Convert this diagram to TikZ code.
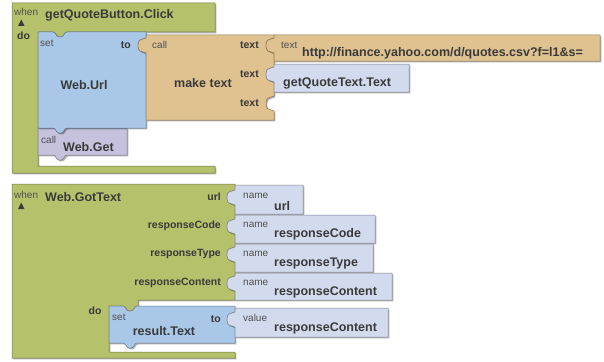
\documentclass[tikz,border=0pt]{standalone}
\usepackage{fontspec}
\setmainfont{Liberation Sans}
\definecolor{evt}{HTML}{B5C26B}
\definecolor{setc}{HTML}{A9C7E6}
\definecolor{txtc}{HTML}{DFC28F}
\definecolor{callc}{HTML}{C6C2DE}
\definecolor{valc}{HTML}{D2DBEE}
\definecolor{ink}{HTML}{3A3A3A}
\definecolor{inksoft}{HTML}{505050}
\tikzset{
  x=1pt, y=-1pt,
  % block body with a soft drop shadow on the lower right
  blk/.style={fill=#1, draw=#1!60!black, line width=0.5pt, line join=round,
    preaction={fill=black, fill opacity=0.3, transform canvas={shift={(1.4,1.4)}}}},
  % notch in the top edge of a statement block (path runs to the right)
  notchR/.style 2 args={insert path={-- (#1,#2) .. controls ({#1+3},#2) and ({#1+3},{#2+5}) .. ({#1+6},{#2+5})
      -- ({#1+8},{#2+5}) .. controls ({#1+11},{#2+5}) and ({#1+11},#2) .. ({#1+14},#2)}},
  % tab hanging below an edge (path runs to the left)
  tabL/.style 2 args={insert path={-- ({#1+14},#2) .. controls ({#1+11},#2) and ({#1+11},{#2+5}) .. ({#1+8},{#2+5})
      -- ({#1+6},{#2+5}) .. controls ({#1+3},{#2+5}) and ({#1+3},#2) .. (#1,#2)}},
  % value socket cut into a right edge (path runs downwards)
  sockD/.style 2 args={insert path={-- (#1,#2) .. controls ({#1-1},{#2+1}) and ({#1-2},{#2+1}) .. ({#1-3},{#2+1})
      .. controls ({#1-6},{#2+1}) and ({#1-8},{#2+3}) .. ({#1-8},{#2+6}) -- ({#1-8},{#2+9})
      .. controls ({#1-8},{#2+12}) and ({#1-6},{#2+14}) .. ({#1-3},{#2+14})
      .. controls ({#1-2},{#2+14}) and ({#1-1},{#2+14}) .. (#1,{#2+15})}},
  % value plug on a left edge (path runs upwards)
  plugU/.style 2 args={insert path={-- (#1,{#2+15}) .. controls ({#1-1},{#2+14}) and ({#1-2},{#2+14}) .. ({#1-3},{#2+14})
      .. controls ({#1-6},{#2+14}) and ({#1-8},{#2+12}) .. ({#1-8},{#2+9}) -- ({#1-8},{#2+6})
      .. controls ({#1-8},{#2+3}) and ({#1-6},{#2+1}) .. ({#1-3},{#2+1})
      .. controls ({#1-2},{#2+1}) and ({#1-1},{#2+1}) .. (#1,#2)}},
  lblsm/.style={inner sep=0pt, text=inksoft, font=\fontsize{10}{10}\selectfont},
  lblmid/.style={inner sep=0pt, text=ink, font=\bfseries\fontsize{10.5}{10.5}\selectfont},
  lblbig/.style={inner sep=0pt, text=ink, font=\bfseries\fontsize{12.5}{12.5}\selectfont},
}
\begin{document}
\begin{tikzpicture}
\useasboundingbox (0,0) rectangle (604,361);

% ---------- when getQuoteButton.Click ----------
\path[blk=evt] (12,3) -- (215,3) -- (215,32) [tabL={53}{32}] -- (38,32) -- (38,166)
  -- (215,166) -- (215,173) -- (12,173) -- cycle;
\path[blk=callc] (38,128) [notchR={53}{128}] -- (127,128) -- (127,155) [tabL={53}{155}] -- (38,155) -- cycle;
\path[blk=setc] (38,32) [notchR={53}{32}] -- (146,32) [sockD={146}{38}] -- (146,128)
  [tabL={53}{128}] -- (38,128) -- cycle;
\path[blk=txtc] (146,35) -- (274,35) [sockD={274}{38}] [sockD={274}{67}] [sockD={274}{96}]
  -- (274,120) -- (146,120) [plugU={146}{38}] -- cycle;
\path[blk=txtc] (274,35) -- (600,35) -- (600,61) -- (274,61) [plugU={274}{38}] -- cycle;
\path[blk=valc] (274,64) -- (409,64) -- (409,92) -- (274,92) [plugU={274}{67}] -- cycle;

\node[lblsm, anchor=west] (when1) at (14,12) {when};
\fill[ink] (18,26) -- (24.5,26) -- (21.25,19.5) -- cycle;
\node[lblbig, anchor=west] (click) at (45,15) {getQuoteButton.Click};
\node[lblmid, anchor=west] (do1) at (17,36) {do};
\node[lblsm, anchor=west] (set1) at (40,43) {set};
\node[lblmid, anchor=east] (to1) at (131,45) {to};
\node[lblbig] (weburl) at (84,85) {Web.Url};
\node[lblsm, anchor=west] (call1) at (152,45) {call};
\node[lblbig] (maketext) at (203,83) {make text};
\node[lblmid, anchor=east] (t1) at (259,45) {text};
\node[lblmid, anchor=east] (t2) at (259,74) {text};
\node[lblmid, anchor=east] (t3) at (259,103) {text};
\node[lblsm, anchor=west] (strlbl) at (281,45) {text};
\node[lblbig, anchor=west] (urlstr) at (302,53) {http://finance.yahoo.com/d/quotes.csv?f=l1\&s=};
\node[lblbig, anchor=west] (qtext) at (283,83) {getQuoteText.Text};
\node[lblsm, anchor=west] (call2) at (41,140) {call};
\node[lblbig, anchor=west] (webget) at (63,147) {Web.Get};

% ---------- when Web.GotText ----------
\path[blk=evt] (12,184) -- (235,184) [sockD={235}{190}] [sockD={235}{219}] [sockD={235}{247}]
  [sockD={235}{276}] -- (235,300) -- (138,300) -- (138,306) [tabL={123}{306}] -- (109,306)
  -- (109,352) -- (235,352) -- (235,358) -- (12,358) -- cycle;
\path[blk=setc] (109,306) [notchR={123}{306}] -- (235,306) [sockD={235}{312}] -- (235,343)
  [tabL={123}{343}] -- (109,343) -- cycle;
\path[blk=valc] (235,185) -- (303,185) -- (303,214) -- (235,214) [plugU={235}{190}] -- cycle;
\path[blk=valc] (235,215) -- (375,215) -- (375,243) -- (235,243) [plugU={235}{219}] -- cycle;
\path[blk=valc] (235,244) -- (373,244) -- (373,272) -- (235,272) [plugU={235}{247}] -- cycle;
\path[blk=valc] (235,273) -- (392,273) -- (392,300) -- (235,300) [plugU={235}{276}] -- cycle;
\path[blk=valc] (235,308) -- (388,308) -- (388,337) -- (235,337) [plugU={235}{312}] -- cycle;

\node[lblsm, anchor=west] (when2) at (14,195) {when};
\fill[ink] (18,209) -- (24.5,209) -- (21.25,202.5) -- cycle;
\node[lblbig, anchor=west] (gottext) at (45,197) {Web.GotText};
\node[lblmid, anchor=east] (purl) at (221,197) {url};
\node[lblmid, anchor=east] (pcode) at (221,226) {responseCode};
\node[lblmid, anchor=east] (ptype) at (221,254) {responseType};
\node[lblmid, anchor=east] (pcont) at (221,283) {responseContent};
\node[lblmid] (do2) at (95,311) {do};
\node[lblsm, anchor=west] (set2) at (112,317) {set};
\node[lblbig] (restext) at (164,331) {result.Text};
\node[lblmid, anchor=east] (to2) at (221,319) {to};

\node[lblsm, anchor=west] (n1) at (243,196) {name};
\node[lblbig, anchor=west] (v1) at (274,206) {url};
\node[lblsm, anchor=west] (n2) at (243,225) {name};
\node[lblbig, anchor=west] (v2) at (274,234) {responseCode};
\node[lblsm, anchor=west] (n3) at (243,254) {name};
\node[lblbig, anchor=west] (v3) at (274,263) {responseType};
\node[lblsm, anchor=west] (n4) at (243,283) {name};
\node[lblbig, anchor=west] (v4) at (274,292) {responseContent};
\node[lblsm, anchor=west] (n5) at (243,318) {value};
\node[lblbig, anchor=west] (v5) at (274,328) {responseContent};
\end{tikzpicture}
\end{document}
